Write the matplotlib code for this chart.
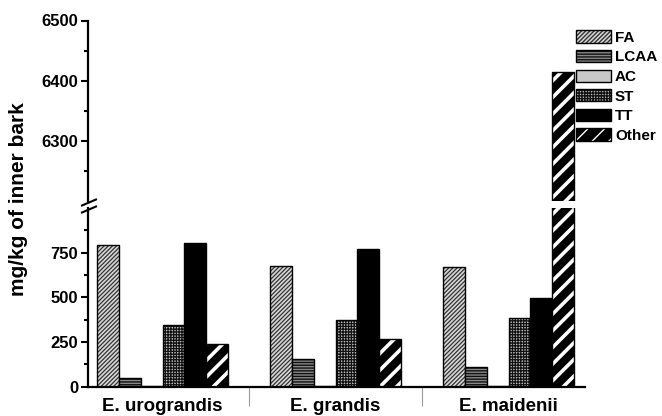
import matplotlib
matplotlib.use("Agg")
import matplotlib.pyplot as plt
import numpy as np
from matplotlib.patches import Patch
from matplotlib.legend_handler import HandlerTuple
from matplotlib.lines import Line2D

plt.rcParams['font.family'] = ['Liberation Sans', 'DejaVu Sans']
plt.rcParams['font.weight'] = 'bold'

species = ["E. urograndis", "E. grandis", "E. maidenii"]
series = ["FA", "LCAA", "AC", "ST", "TT", "Other"]
FA = [795, 678, 668]
LCAA = [50, 155, 111]
AC = [2, 2, 2]
ST = [344, 372, 383]
TT = [805, 772, 494]
Other = [239, 267, 6415]
values = [FA, LCAA, AC, ST, TT, Other]

styles = {
    "FA": dict(facecolor="#d8d8d8", edgecolor="#333333", hatch="////////", hlw=0.9),
    "LCAA": dict(facecolor="#888888", edgecolor="#111111", hatch="------", hlw=1.0),
    "AC": dict(facecolor="#c8c8c8", edgecolor="#222222", hatch=None, hlw=1.0),
    "ST": dict(facecolor="#bbbbbb", edgecolor="#111111", hatch="++++++", hlw=0.9),
    "TT": dict(facecolor="black", edgecolor="black", hatch=None, hlw=1.0),
    "Other": dict(facecolor="black", edgecolor="white", hatch="//", hlw=2.6),
}

fig = plt.figure(figsize=(6.62, 4.16), dpi=100)
W, H = 662.0, 416.0
left = 88 / W
width = (585 - 88) / W
ax_top = fig.add_axes([left, 1 - 201 / H, width, (201 - 20.5) / H])
ax_bot = fig.add_axes([left, 1 - 386.7 / H, width, (386.7 - 208) / H])

x = np.arange(len(species))
bw = 0.1254


def set_hlw(patches, lw):
    for b in patches:
        if hasattr(b, "set_hatch_linewidth"):
            b.set_hatch_linewidth(lw)


for ax in (ax_top, ax_bot):
    for i, (name, vals) in enumerate(zip(series, values)):
        pos = x + (i - 2.5) * bw
        st = styles[name]
        bars = ax.bar(pos, vals, bw, facecolor=st["facecolor"], edgecolor=st["edgecolor"],
                      hatch=st["hatch"], linewidth=0)
        set_hlw(bars, st["hlw"])
        ax.bar(pos, vals, bw, fill=False, edgecolor="black", linewidth=1.0)
    ax.set_xlim(-0.431, 2.442)

ax_top.set_ylim(6200, 6500)
ax_bot.set_ylim(0, 1000)

ax_top.set_yticks([6300, 6400, 6500])
ax_top.set_yticks([6250, 6350, 6450], minor=True)
ax_bot.set_yticks([0, 250, 500, 750])
ax_bot.set_yticks([125, 375, 625, 875], minor=True)

for ax in (ax_top, ax_bot):
    for s in ("top", "right"):
        ax.spines[s].set_visible(False)
    ax.spines["left"].set_linewidth(1.6)
    ax.tick_params(axis="y", which="major", length=5, width=1.5, labelsize=12, pad=2)
    ax.tick_params(axis="y", which="minor", length=3, width=1.5)
    ax.patch.set_alpha(0)

ax_top.spines["bottom"].set_visible(False)
ax_top.set_xticks([])
ax_top.tick_params(axis="x", which="both", bottom=False, labelbottom=False)

ax_bot.spines["bottom"].set_linewidth(1.6)
ax_bot.set_xticks([0.5, 1.5])
ax_bot.set_xticklabels([])
ax_bot.tick_params(axis="x", which="major", length=14, width=0.8, color="#999999")
ax_bot.set_xticks(x, minor=True)
ax_bot.set_xticklabels(species, minor=True, fontsize=13.5, fontweight="bold")
ax_bot.tick_params(axis="x", which="minor", length=0, pad=8)

# axis break marks
for y0 in (205.5, 212.5):
    fig.add_artist(Line2D([82 / W, 96 / W], [1 - y0 / H, 1 - (y0 - 6) / H],
                          color="black", linewidth=1.5, transform=fig.transFigure))

fig.text(19 / W, 1 - 199 / H, "mg/kg of inner bark", rotation=90, ha="center", va="center",
         fontsize=15, fontweight="bold")

handles = []
for name in series:
    st = styles[name]
    p = Patch(facecolor=st["facecolor"], edgecolor=st["edgecolor"], hatch=st["hatch"], linewidth=0)
    if hasattr(p, "set_hatch_linewidth"):
        p.set_hatch_linewidth(st["hlw"])
    handles.append((p, Patch(fill=False, edgecolor="black", linewidth=1.0)))

leg = fig.legend(handles, series, loc="upper left", bbox_to_anchor=(576 / W, 1 - 30.5 / H),
                 frameon=False, handlelength=2.3, handleheight=0.85,
                 handletextpad=0.25, labelspacing=0.34, borderpad=0, borderaxespad=0,
                 handler_map={tuple: HandlerTuple(ndivide=1, pad=0)},
                 prop={"weight": "bold", "size": 11})

fig.savefig("out.png", dpi=100)
